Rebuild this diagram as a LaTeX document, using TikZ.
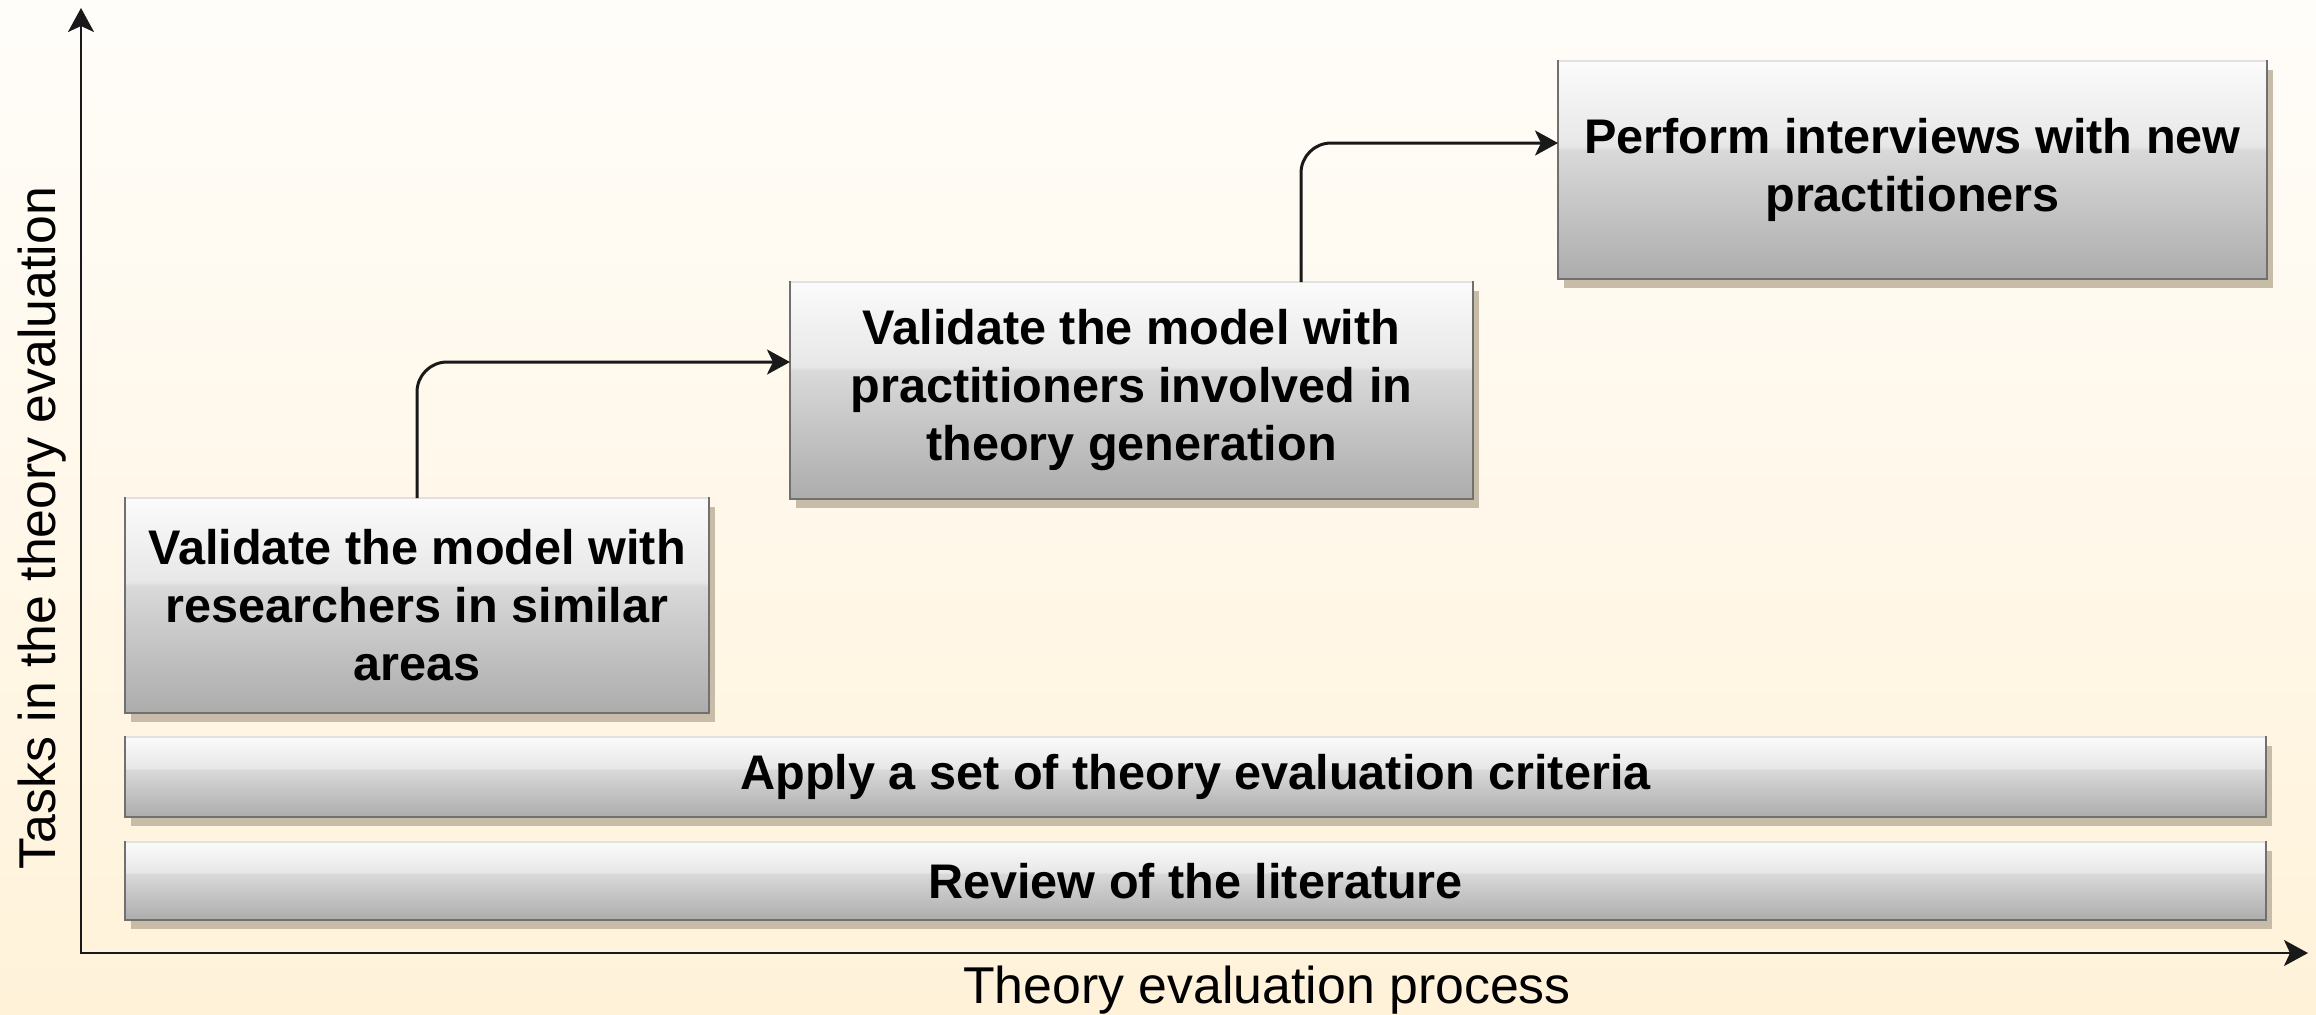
\documentclass[tikz,border=0pt]{standalone}
\usepackage{fontspec}
\setmainfont{Liberation Sans}
\usetikzlibrary{arrows.meta,shadows}

\definecolor{bgtop}{RGB}{255,253,250}
\definecolor{bgbot}{RGB}{255,242,217}
\definecolor{gtop}{RGB}{251,251,251}
\definecolor{gmidhi}{RGB}{231,231,231}
\definecolor{gmidlo}{RGB}{217,217,217}
\definecolor{gbot}{RGB}{172,172,172}
\definecolor{edgec}{RGB}{112,112,112}
\definecolor{edgehi}{RGB}{225,225,225}
\definecolor{shadowc}{RGB}{198,188,168}

% glossy grey fill: light upper part, sharp step, darker lower part
\pgfdeclareverticalshading{glossy}{100bp}{color(0bp)=(gbot); color(25bp)=(gbot); color(54.5bp)=(gmidlo); color(55.5bp)=(gmidhi); color(75bp)=(gtop); color(100bp)=(gtop)}

\begin{document}
\begin{tikzpicture}[x=0.5pt, y=-0.5pt,
  task/.style={shade, shading=glossy, draw=edgec, line width=1.2pt,
    outer sep=0pt, inner sep=0pt, align=center,
    font=\fontsize{24.3}{29}\selectfont\bfseries,
    drop shadow={shadow xshift=3pt, shadow yshift=-4.5pt, fill=shadowc, opacity=1}},
  topedge/.style={draw=edgehi, line width=1.2pt},
  conn/.style={draw=black!90, line width=1.5pt, rounded corners=15pt,
    -{Stealth[length=11.5pt, width=12.5pt, inset=3pt]}},
  axis/.style={draw=black!90, line width=1.25pt,
    {Stealth[length=12pt, width=13pt, inset=3pt]}-{Stealth[length=12pt, width=13pt, inset=3pt]}},
  axislabel/.style={font=\fontsize{25.9}{31}\selectfont, inner sep=0pt}]

% page and background
\useasboundingbox (0,0) rectangle (2316,1014);
\shade[top color=bgtop, bottom color=bgbot] (0,0) rectangle (2316,1014);

% axes
\coordinate (ytip) at (81,8);
\coordinate (origin) at (81,953);
\coordinate (xtip) at (2308,953);
\draw[axis] (ytip) -- (origin) -- (xtip);

\node[axislabel, rotate=90, anchor=base] (ylab) at (55,528) {Tasks in the theory evaluation};
\node[axislabel, anchor=base] (xlab) at (1267,1003) {Theory evaluation process};

% tasks
\node[task, minimum width=1070.5pt, minimum height=39pt] (review) at (1195.5,881) {Review of the literature};
\node[task, minimum width=1070.5pt, minimum height=40pt] (criteria) at (1195.5,777) {Apply a set of theory evaluation criteria};
\node[task, minimum width=292pt, minimum height=107.5pt] (researchers) at (417,605.5)
  {Validate the model with\\researchers in similar\\areas};
\node[task, minimum width=341.5pt, minimum height=108.5pt] (practitioners) at (1131.5,390.5)
  {Validate the model with\\practitioners involved in\\theory generation};
\node[task, minimum width=354.5pt, minimum height=109pt] (interviews) at (1912.5,170)
  {Perform interviews with new\\practitioners};

% light upper rims
\foreach \n in {review,criteria,researchers,practitioners,interviews}
  \draw[topedge] ([xshift=0.6pt]\n.north west) -- ([xshift=-0.6pt]\n.north east);

% progression
\draw[conn] (researchers.north) |- ([yshift=14.25pt]practitioners.west);
\draw[conn] ([xshift=84.75pt]practitioners.north) |- ([yshift=13.5pt]interviews.west);

\end{tikzpicture}
\end{document}
